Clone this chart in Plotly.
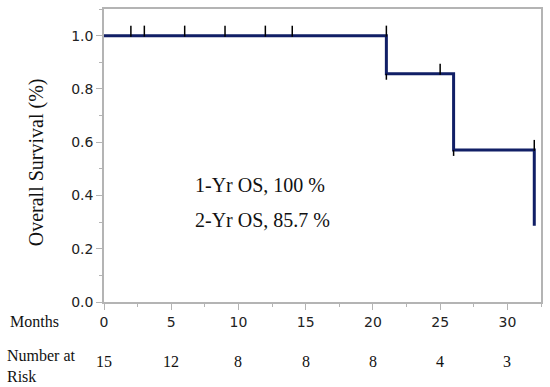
import plotly.graph_objects as go

# Kaplan-Meier step data
times = [0, 21, 26, 32]
survival = [1.0, 0.857, 0.571, 0.286]

# censor marks (above the curve)
censor_t = [2, 3, 6, 9, 12, 14, 21, 25, 32]
censor_s = [1.0, 1.0, 1.0, 1.0, 1.0, 1.0, 1.0, 0.857, 0.571]
# small marks below the curve at drop points
drop_t = [21, 26]
drop_s = [0.857, 0.571]

risk_times = [0, 5, 10, 15, 20, 25, 30]
risk_counts = ["15", "12", "8", "8", "8", "4", "3"]

x_ticks = [0, 5, 10, 15, 20, 25, 30]
y_ticks = [0.0, 0.2, 0.4, 0.6, 0.8, 1.0]
y_ticklabels = ["0.0", "0.2", "0.4", "0.6", "0.8", "1.0"]

notes = ["1-Yr OS, 100 %", "2-Yr OS, 85.7 %"]
note_y = [0.438, 0.309]

NAVY = "#111f66"
GRAY = "#b4b4b4"
SERIF = "Liberation Serif, Times New Roman, serif"
SANS = "DejaVu Sans, Verdana, sans-serif"

fig = go.Figure()
fig.add_trace(go.Scatter(x=times, y=survival, mode="lines", line=dict(color=NAVY, width=3, shape="hv"),
                         hoverinfo="skip", showlegend=False))

shapes = []
for t, s in zip(censor_t, censor_s):
    shapes.append(dict(type="line", xref="x", yref="y", ysizemode="pixel", yanchor=s,
                       x0=t, x1=t, y0=-1, y1=10, line=dict(color="black", width=1.5), layer="above"))
for t, s in zip(drop_t, drop_s):
    shapes.append(dict(type="line", xref="x", yref="y", ysizemode="pixel", yanchor=s,
                       x0=t, x1=t, y0=-6, y1=0, line=dict(color="black", width=1.5), layer="above"))

annotations = []
for txt, yy in zip(notes, note_y):
    annotations.append(dict(text=txt, x=6.6, y=yy, xref="x", yref="y", xanchor="left", yanchor="middle",
                            showarrow=False, font=dict(family=SERIF, size=20, color="#111")))
for t, c in zip(risk_times, risk_counts):
    annotations.append(dict(text=c, x=t, y=-0.203, xref="x", yref="paper", xanchor="center", yanchor="middle",
                            showarrow=False, font=dict(family=SERIF, size=16, color="#111")))
annotations.append(dict(text="Months", x=(34 - 104) / 439, y=(302 - 322) / 295, xref="paper", yref="paper",
                        xanchor="center", yanchor="middle", showarrow=False,
                        font=dict(family=SERIF, size=16, color="#111")))
annotations.append(dict(text="Number at<br>Risk", x=(5 - 104) / 439, y=(302 - 366.5) / 295, xref="paper",
                        yref="paper", xanchor="left", yanchor="middle", align="left", showarrow=False,
                        font=dict(family=SERIF, size=16, color="#111")))
annotations.append(dict(text="Overall Survival (%)", x=(37 - 104) / 439, y=0.478, xref="paper", yref="paper",
                        xanchor="center", yanchor="middle", textangle=-90, showarrow=False,
                        font=dict(family=SERIF, size=20, color="#111")))

fig.update_layout(
    width=550, height=387,
    margin=dict(l=104, r=7, t=7, b=85),
    plot_bgcolor="white", paper_bgcolor="white",
    shapes=shapes, annotations=annotations,
    xaxis=dict(range=[0, 32.5], tickvals=x_ticks, ticks="outside", ticklen=6, tickcolor=GRAY,
               showline=True, linecolor=GRAY, linewidth=1.5, mirror=True, showgrid=False, zeroline=False,
               tickfont=dict(family=SANS, size=14, color="#222"),
               minor=dict(dtick=2.5, ticks="outside", ticklen=3, tickcolor=GRAY)),
    yaxis=dict(range=[0, 1.1], tickvals=y_ticks, ticktext=y_ticklabels, ticks="outside", ticklen=6,
               tickcolor=GRAY, showline=True, linecolor=GRAY, linewidth=1.5, mirror=True, showgrid=False,
               zeroline=False, tickfont=dict(family=SANS, size=14, color="#222"),
               minor=dict(dtick=0.1, ticks="outside", ticklen=3, tickcolor=GRAY)),
)

fig.write_html("out.html", config={"displayModeBar": False},
               post_script="document.body.style.margin='0';document.body.style.overflow='hidden';")
